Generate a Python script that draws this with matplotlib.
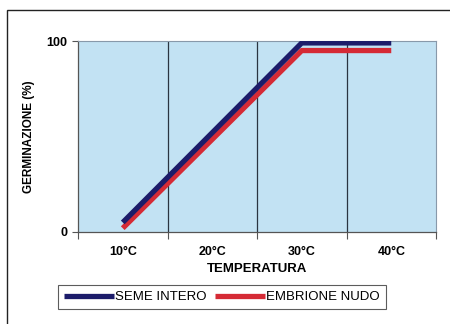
import matplotlib.pyplot as plt
from matplotlib.patches import Rectangle

categories = ["10°C", "20°C", "30°C", "40°C"]
seme_intero = [5, 52, 99, 99]
embrione_nudo = [2, 48.5, 95, 95]

plt.rcParams["font.family"] = ["Liberation Sans", "DejaVu Sans"]

fig = plt.figure(figsize=(4.5, 3.24), dpi=100)
fig.patch.set_facecolor("white")

# outer frame of the scanned chart
fig.patches.append(Rectangle((7 / 450, -0.05), 1.0, (324 - 10) / 324 + 0.05,
                             transform=fig.transFigure, fill=False,
                             edgecolor="#222222", linewidth=1.0))

ax = fig.add_axes([78 / 450, 92 / 324, 358 / 450, 191 / 324])
ax.set_facecolor("#c2e2f3")

x = list(range(len(categories)))
ax.plot(x, seme_intero, color="#1c1c6a", linewidth=3.8, solid_capstyle="butt",
        label="SEME INTERO", zorder=4)
ax.plot(x, embrione_nudo, color="#d52a35", linewidth=3.8, solid_capstyle="butt",
        label="EMBRIONE NUDO", zorder=3)

ax.set_xlim(-0.5, 3.5)
ax.set_ylim(0, 100)
for b in [0.5, 1.5, 2.5]:
    ax.axvline(b, color="#2a3440", linewidth=0.9, zorder=2)

ax.set_xticks(x)
ax.set_xticklabels(categories, fontsize=9, fontweight="bold")
ax.set_xticks([-0.5, 0.5, 1.5, 2.5, 3.5], minor=True)
ax.tick_params(axis="x", which="major", length=0, pad=10)
ax.tick_params(axis="x", which="minor", length=5, width=0.8, color="#555555")
ax.set_yticks([0, 100])
ax.set_yticklabels(["0", "100"], fontsize=9, fontweight="bold")
ax.tick_params(axis="y", length=4, width=0.8, color="#555555")

for side in ["top", "right"]:
    ax.spines[side].set_color("#8899aa")
    ax.spines[side].set_linewidth(0.8)
for side in ["left", "bottom"]:
    ax.spines[side].set_color("#555555")
    ax.spines[side].set_linewidth(0.9)

ax.set_xlabel("TEMPERATURA", fontsize=9.5, fontweight="bold", labelpad=4)
ax.set_ylabel("GERMINAZIONE (%)", fontsize=8.5, fontweight="bold", labelpad=8)

leg = fig.legend(loc="center", bbox_to_anchor=(222 / 450, (324 - 297) / 324),
                 ncol=2, fontsize=9.5, frameon=True, fancybox=False,
                 handlelength=3.8, handletextpad=0.1, columnspacing=0.6,
                 borderpad=0.45)
leg.get_frame().set_edgecolor("#333333")
leg.get_frame().set_linewidth(0.8)

fig.savefig("out.png", dpi=100)
